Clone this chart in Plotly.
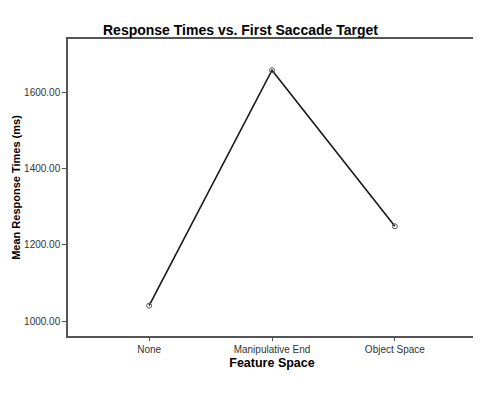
import plotly.graph_objects as go

# Mean response times by first saccade target
categories = ['None', 'Manipulative End', 'Object Space']
mean_rt = [1040.5, 1659.0, 1249.0]
y_ticks = [1000, 1200, 1400, 1600]

fig = go.Figure(data=[
    go.Scatter(
        x=categories,
        y=mean_rt,
        mode='lines+markers',
        line=dict(color='#1a1a1a', width=1.6),
        marker=dict(symbol='circle-open', size=5, color='#555555',
                    line=dict(width=1)),
        showlegend=False
    )
])

# page body adds an 8px margin, so the figure is sized to fit inside the window
fig.update_layout(
    width=473,
    height=392,
    title=dict(
        text='<b>Response Times vs. First Saccade Target</b>',
        x=0.4915, xanchor='center', xref='container',
        y=0.944, yanchor='middle',
        font=dict(family='Liberation Sans, Arial', size=14, color='black')
    ),
    font=dict(family='Liberation Sans, Arial', color='#333333'),
    margin=dict(l=60, r=5, t=31, b=64),
    plot_bgcolor='white',
    paper_bgcolor='white',
    xaxis=dict(
        title=dict(text='<b>Feature Space</b>', standoff=4,
                   font=dict(size=12.5, color='black')),
        automargin=False,
        range=[-0.66, 2.66],
        showgrid=False,
        showline=True, linecolor='#555555', linewidth=1.5, mirror=True,
        ticks='outside', ticklen=3, tickcolor='#555555',
        tickfont=dict(size=10, color='#333333')
    ),
    yaxis=dict(
        title=dict(text='<b>Mean Response Times (ms)</b>', standoff=1,
                   font=dict(size=11, color='black')),
        automargin=False,
        range=[960.8, 1741],
        tickvals=y_ticks,
        tickformat='.2f',
        showgrid=False, zeroline=False,
        showline=True, linecolor='#555555', linewidth=1.5, mirror=True,
        ticks='outside', ticklen=4, tickcolor='#555555',
        tickfont=dict(size=10, color='#333333')
    )
)

fig.write_html("out.html")
